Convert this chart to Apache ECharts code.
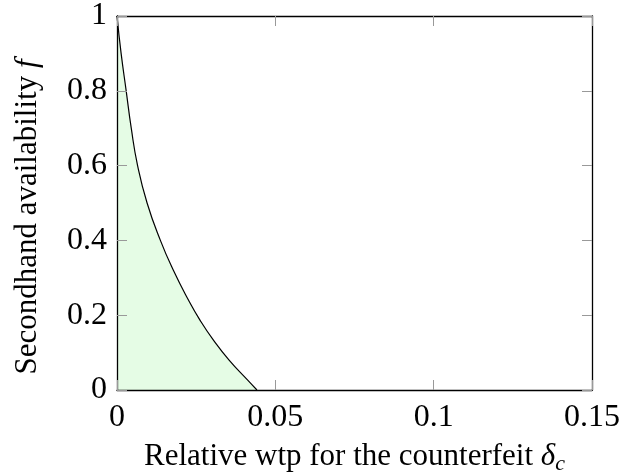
<!DOCTYPE html>
<html>
<head>
<meta charset="utf-8">
<script src="https://cdn.jsdelivr.net/npm/echarts@6/dist/echarts.min.js"></script>
<style>html,body{margin:0;padding:0;background:#fff;}#c{width:623px;height:475px;}</style>
</head>
<body>
<div id="c"></div>
<script>
const deltaC = [0, 0.0013, 0.0029, 0.0045, 0.0065, 0.0095, 0.0137, 0.0178, 0.0226, 0.0262, 0.0304, 0.0354, 0.0412, 0.0442];
const fAvail = [1, 0.9, 0.8, 0.7, 0.6, 0.5, 0.4, 0.32, 0.24, 0.187, 0.134, 0.08, 0.027, 0];
const xTicks = [0, 0.05, 0.1, 0.15];
const yTicks = [0, 0.2, 0.4, 0.6, 0.8, 1];

const FONT = 'Liberation Serif';
const FS = 32;
const NFS = 31;
const tickStyle = {show: true, inside: true, length: 10, lineStyle: {color: '#999', width: 1}};
const lineStyle = {show: true, onZero: false, lineStyle: {color: '#000', width: 1.3}};
const fmt = v => String(+v.toFixed(2));

const chart = echarts.init(document.getElementById('c'), null, {renderer: 'canvas'});
chart.setOption({
  animation: false,
  backgroundColor: '#fff',
  grid: {left: 117, right: 31, top: 16, bottom: 85, containLabel: false, outerBoundsMode: 'none'},
  xAxis: [{
    type: 'value', min: xTicks[0], max: xTicks[xTicks.length - 1], interval: 0.05, position: 'bottom', z: 5,
    axisLine: lineStyle, axisTick: tickStyle, splitLine: {show: false},
    axisLabel: {fontFamily: FONT, fontSize: FS, color: '#000', margin: 12, formatter: fmt},
    name: 'Relative wtp for the counterfeit {i|δ}{s|c}',
    nameLocation: 'middle', nameGap: 47,
    nameTextStyle: {fontFamily: FONT, fontSize: NFS, color: '#000', lineHeight: 34,
      rich: {i: {fontFamily: FONT, fontSize: NFS, fontStyle: 'italic', color: '#000', lineHeight: 34},
             s: {fontFamily: FONT, fontSize: 22, fontStyle: 'italic', color: '#000', verticalAlign: 'bottom', lineHeight: 36}}}
  }, {
    type: 'value', min: xTicks[0], max: xTicks[xTicks.length - 1], interval: 0.05, position: 'top', z: 5,
    axisLine: lineStyle, axisTick: tickStyle, axisLabel: {show: false}, splitLine: {show: false}
  }],
  yAxis: [{
    type: 'value', min: yTicks[0], max: yTicks[yTicks.length - 1], interval: 0.2, position: 'left', z: 5,
    axisLine: lineStyle, axisTick: tickStyle, splitLine: {show: false},
    axisLabel: {fontFamily: FONT, fontSize: FS, color: '#000', margin: 10, formatter: fmt},
    name: 'Secondhand availability {i|f}',
    nameLocation: 'middle', nameGap: 74,
    nameTextStyle: {fontFamily: FONT, fontSize: NFS, color: '#000', padding: [0, 28, 0, 0],
      rich: {i: {fontFamily: FONT, fontSize: NFS, fontStyle: 'italic', color: '#000'}}}
  }, {
    type: 'value', min: yTicks[0], max: yTicks[yTicks.length - 1], interval: 0.2, position: 'right', z: 5,
    axisLine: lineStyle, axisTick: tickStyle, axisLabel: {show: false}, splitLine: {show: false}
  }],
  series: [{
    type: 'line',
    data: deltaC.map((d, i) => [d, fAvail[i]]),
    smooth: 0.5,
    showSymbol: false,
    lineStyle: {color: '#000', width: 1.2},
    areaStyle: {color: '#e5fce5', opacity: 1},
    z: 1
  }]
});
</script>
</body>
</html>
